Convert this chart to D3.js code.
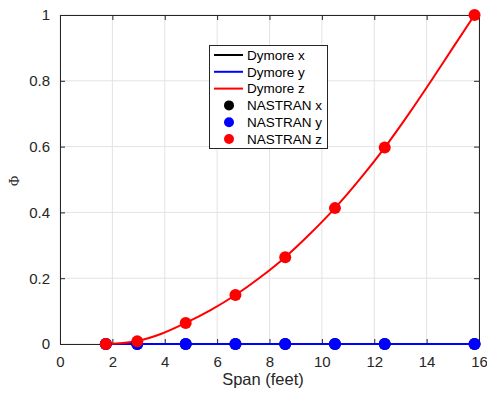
<!DOCTYPE html>
<html>
<head>
<meta charset="utf-8">
<script src="https://cdn.jsdelivr.net/npm/d3@7"></script>
<style>
  body { margin: 0; background: #fff; }
  svg { display: block; font-family: "Liberation Sans", Arial, sans-serif; }
</style>
</head>
<body>
<svg id="chart" width="487" height="397"></svg>
<script>
// Span stations (feet) and mode shape components
const nastranSpan = [1.75, 2.95, 4.8, 6.7, 8.6, 10.5, 12.4, 15.83];
const nastranX    = [0, 0, 0, 0, 0, 0, 0, 0];
const nastranY    = [0, 0, 0, 0, 0, 0, 0, 0];
const nastranZ    = [0, 0.008, 0.064, 0.149, 0.264, 0.413, 0.597, 1.0];

const dymoreSpan = [1.75, 2.4, 2.95, 3.9, 4.8, 5.75, 6.7, 7.65, 8.6, 9.55, 10.5, 11.45, 12.4, 13.3, 14.2, 15.0, 15.83];
const dymoreX    = [0, 0, 0, 0, 0, 0, 0, 0, 0, 0, 0, 0, 0, 0, 0, 0, 0];
const dymoreY    = [0, 0, 0, 0, 0, 0, 0, 0, 0, 0, 0, 0, 0, 0, 0, 0, 0];
const dymoreZ    = [0, 0.003, 0.009, 0.032, 0.064, 0.103, 0.149, 0.203, 0.264, 0.335, 0.413, 0.501, 0.597, 0.697, 0.803, 0.9, 1.0];

const xTicks = [0, 2, 4, 6, 8, 10, 12, 14, 16];
const yTicks = [0, 0.2, 0.4, 0.6, 0.8, 1];

const legendLabels = ["Dymore x", "Dymore y", "Dymore z", "NASTRAN x", "NASTRAN y", "NASTRAN z"];
const colors = { x: "#000000", y: "#0000ff", z: "#ff0000" };

const svg = d3.select("#chart");
const plotL = 60, plotR = 479, plotT = 15, plotB = 344;

const x = d3.scaleLinear().domain([0, 16]).range([plotL, plotR]);
const y = d3.scaleLinear().domain([0, 1]).range([plotB, plotT]);

// grid
const grid = svg.append("g");
grid.selectAll("line.gx").data(xTicks).join("line")
  .attr("x1", d => x(d)).attr("x2", d => x(d))
  .attr("y1", plotT).attr("y2", plotB)
  .attr("stroke", "#e3e3e3").attr("stroke-width", 1);
grid.selectAll("line.gy").data(yTicks).join("line")
  .attr("x1", plotL).attr("x2", plotR)
  .attr("y1", d => y(d)).attr("y2", d => y(d))
  .attr("stroke", "#e3e3e3").attr("stroke-width", 1);

// axes
const tickLen = 5;
const xAxis = d3.axisBottom(x).tickValues(xTicks).tickFormat(d3.format("d")).tickSizeInner(-tickLen).tickSizeOuter(0).tickPadding(12);
const yAxis = d3.axisLeft(y).tickValues(yTicks).tickFormat(d => d === 0 || d === 1 ? d3.format("d")(d) : d3.format(".1f")(d)).tickSizeInner(-tickLen).tickSizeOuter(0).tickPadding(10);
const xTop = d3.axisTop(x).tickValues(xTicks).tickFormat("").tickSizeInner(-tickLen).tickSizeOuter(0);
const yRight = d3.axisRight(y).tickValues(yTicks).tickFormat("").tickSizeInner(-tickLen).tickSizeOuter(0);

function styleAxis(g) {
  g.select(".domain").attr("stroke", "#262626").attr("stroke-width", 1);
  g.selectAll(".tick line").attr("stroke", "#262626");
  g.selectAll(".tick text").attr("fill", "#262626").attr("font-size", 15)
    .attr("font-family", "Liberation Sans, Arial, sans-serif");
}
svg.append("g").attr("transform", `translate(0,${plotB})`).call(xAxis).call(styleAxis);
svg.append("g").attr("transform", `translate(${plotL},0)`).call(yAxis).call(styleAxis);
svg.append("g").attr("transform", `translate(0,${plotT})`).call(xTop).call(styleAxis);
svg.append("g").attr("transform", `translate(${plotR},0)`).call(yRight).call(styleAxis);

// axis labels
svg.append("text").attr("x", 263).attr("y", 385)
  .attr("text-anchor", "middle").attr("font-size", 16.5).attr("fill", "#262626")
  .text("Span (feet)");
svg.append("text").attr("transform", `translate(19,181) rotate(-90)`)
  .attr("text-anchor", "middle").attr("font-size", 14).attr("fill", "#262626")
  .attr("font-family", "Liberation Serif, Times New Roman, serif")
  .text("Φ");

// Dymore lines
const line = d3.line().curve(d3.curveMonotoneX);
const dymore = [
  { vals: dymoreX, color: colors.x },
  { vals: dymoreY, color: colors.y },
  { vals: dymoreZ, color: colors.z }
];
dymore.forEach(s => {
  svg.append("path")
    .attr("d", line(dymoreSpan.map((sp, i) => [x(sp), y(s.vals[i])])))
    .attr("fill", "none").attr("stroke", s.color).attr("stroke-width", 2);
});

// NASTRAN points
const nastran = [
  { vals: nastranX, color: colors.x },
  { vals: nastranY, color: colors.y },
  { vals: nastranZ, color: colors.z }
];
nastran.forEach(s => {
  svg.append("g").selectAll("circle").data(nastranSpan).join("circle")
    .attr("cx", d => x(d)).attr("cy", (d, i) => y(s.vals[i]))
    .attr("r", 6).attr("fill", s.color);
});

// legend
const lg = svg.append("g");
lg.append("rect").attr("x", 209.5).attr("y", 45.5).attr("width", 118).attr("height", 103)
  .attr("fill", "#fff").attr("stroke", "#262626").attr("stroke-width", 1);
const rowY0 = 55, rowDy = 16.8;
legendLabels.forEach((lab, i) => {
  const ry = rowY0 + i * rowDy;
  const c = [colors.x, colors.y, colors.z][i % 3];
  if (i < 3) {
    lg.append("line").attr("x1", 214).attr("x2", 243).attr("y1", ry).attr("y2", ry)
      .attr("stroke", c).attr("stroke-width", 2);
  } else {
    lg.append("circle").attr("cx", 229).attr("cy", ry).attr("r", 5).attr("fill", c);
  }
  lg.append("text").attr("x", 247).attr("y", ry + 4.8)
    .attr("font-size", 13.5).attr("fill", "#000").text(lab);
});
</script>
</body>
</html>
